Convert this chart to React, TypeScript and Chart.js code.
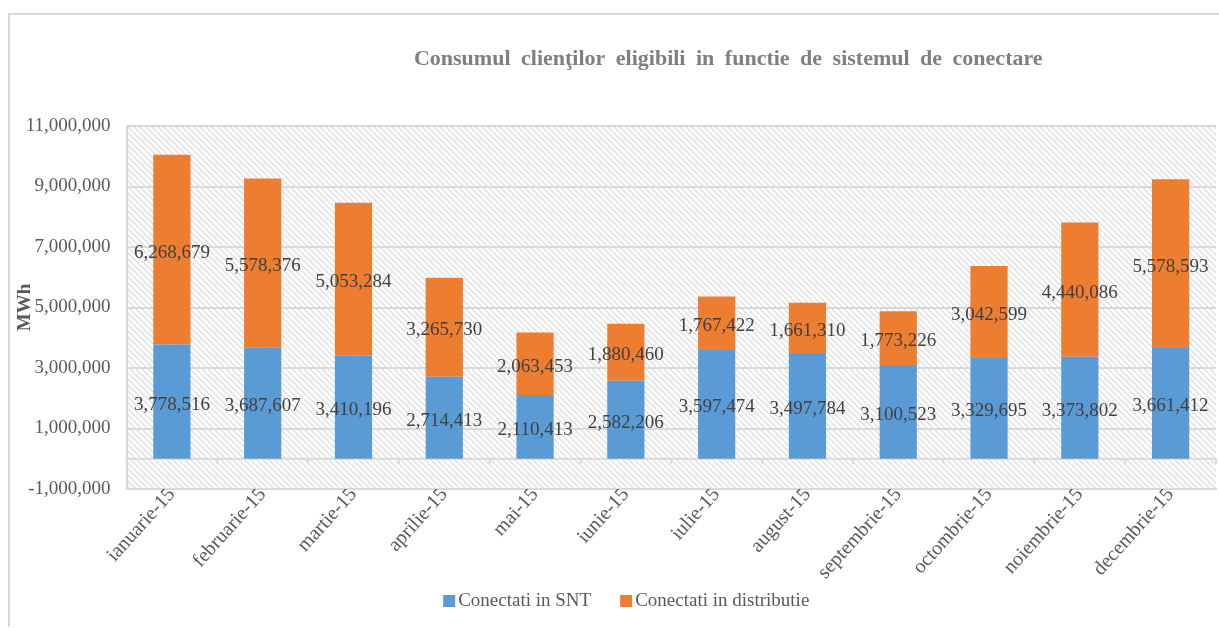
import React, { useEffect, useRef } from 'react';
import { Chart, registerables } from 'chart.js';

Chart.register(...registerables);

const categories = [
  'ianuarie-15', 'februarie-15', 'martie-15', 'aprilie-15', 'mai-15', 'iunie-15',
  'iulie-15', 'august-15', 'septembrie-15', 'octombrie-15', 'noiembrie-15', 'decembrie-15',
];
const conectatiSNT = [
  3778516, 3687607, 3410196, 2714413, 2110413, 2582206,
  3597474, 3497784, 3100523, 3329695, 3373802, 3661412,
];
const conectatiDistributie = [
  6268679, 5578376, 5053284, 3265730, 2063453, 1880460,
  1767422, 1661310, 1773226, 3042599, 4440086, 5578593,
];
const seriesNames = ['Conectati in SNT', 'Conectati in distributie'];
const seriesColors = ['#5B9BD5', '#ED7D31'];
const chartTitle = 'Consumul clienţilor eligibili in functie de sistemul de conectare';
const yAxisTitle = 'MWh';
const yMin = -1000000;
const yMax = 11000000;
const yStep = 2000000;

const SERIF = '"Liberation Serif", "Times New Roman", serif';
const fmt = (v: number) => Number(v).toLocaleString('en-US');

function makeHatch(): CanvasPattern | string {
  const s = 6;
  const c = document.createElement('canvas');
  c.width = s;
  c.height = s;
  const g = c.getContext('2d');
  if (!g) return '#fff';
  g.fillStyle = '#ffffff';
  g.fillRect(0, 0, s, s);
  g.strokeStyle = '#d9d9d9';
  g.lineWidth = 1.2;
  g.beginPath();
  g.moveTo(-1, -1); g.lineTo(s + 1, s + 1);
  g.moveTo(-1, s - 1); g.lineTo(1, s + 1);
  g.moveTo(s - 1, -1); g.lineTo(s + 1, 1);
  g.stroke();
  return g.createPattern(c, 'repeat') || '#fff';
}

export default function App() {
  const ref = useRef<HTMLCanvasElement | null>(null);

  useEffect(() => {
    if (!ref.current) return;
    const hatch = makeHatch();

    const decor = {
      id: 'decor',
      beforeDraw(chart: any) {
        const { ctx, chartArea: a } = chart;
        ctx.save();
        ctx.fillStyle = hatch;
        ctx.fillRect(a.left, a.top, a.right - a.left, a.bottom - a.top);
        ctx.restore();
      },
      beforeDatasetsDraw(chart: any) {
        const { ctx, chartArea: a } = chart;
        const y0 = chart.scales.y.getPixelForValue(0);
        const xs = chart.scales.x;
        ctx.save();
        ctx.strokeStyle = '#d9d9d9';
        ctx.lineWidth = 2;
        ctx.beginPath();
        ctx.moveTo(a.left, y0);
        ctx.lineTo(a.right, y0);
        for (let k = 0; k <= categories.length; k++) {
          const x = xs.getPixelForValue(k - 0.5);
          ctx.moveTo(x, y0);
          ctx.lineTo(x, y0 + 5);
        }
        ctx.stroke();
        ctx.restore();
      },
      afterDatasetsDraw(chart: any) {
        const { ctx } = chart;
        ctx.save();
        ctx.font = `19px ${SERIF}`;
        ctx.fillStyle = '#404040';
        ctx.textAlign = 'center';
        ctx.textBaseline = 'middle';
        chart.data.datasets.forEach((ds: any, i: number) => {
          const meta = chart.getDatasetMeta(i);
          meta.data.forEach((bar: any, j: number) => {
            const cy = (bar.y + bar.base) / 2 + 3;
            ctx.fillText(fmt(ds.data[j]), bar.x, cy);
          });
        });
        ctx.restore();
      },
      afterDraw(chart: any) {
        const { ctx, chartArea: a } = chart;
        const mid = (a.left + a.right) / 2;
        ctx.save();
        // title
        ctx.font = `bold 22px ${SERIF}`;
        try { (ctx as any).wordSpacing = '5px'; } catch (e) { /* ignore */ }
        ctx.fillStyle = '#7f7f7f';
        ctx.textAlign = 'center';
        ctx.textBaseline = 'middle';
        ctx.fillText(chartTitle, mid + 57, 44);
        try { (ctx as any).wordSpacing = '0px'; } catch (e) { /* ignore */ }
        // legend
        ctx.font = `19px ${SERIF}`;
        const box = 12;
        const gap = 3;
        const itemGap = 29;
        const widths = seriesNames.map((n) => box + gap + ctx.measureText(n).width);
        const total = widths.reduce((s, w) => s + w, 0) + itemGap * (widths.length - 1);
        let x = mid - 45 - total / 2;
        const ly = 586;
        ctx.textAlign = 'left';
        seriesNames.forEach((n, i) => {
          ctx.fillStyle = seriesColors[i];
          ctx.fillRect(x, ly - box / 2, box, box);
          ctx.fillStyle = '#595959';
          ctx.fillText(n, x + box + gap, ly);
          x += widths[i] + itemGap;
        });
        ctx.restore();
      },
    };

    const chart = new Chart(ref.current, {
      type: 'bar',
      data: {
        labels: categories,
        datasets: [
          {
            label: seriesNames[0],
            data: conectatiSNT,
            backgroundColor: seriesColors[0],
            barPercentage: 0.41,
            categoryPercentage: 1,
            stack: 's',
          },
          {
            label: seriesNames[1],
            data: conectatiDistributie,
            backgroundColor: seriesColors[1],
            barPercentage: 0.41,
            categoryPercentage: 1,
            stack: 's',
          },
        ],
      },
      options: {
        responsive: false,
        animation: false,
        devicePixelRatio: 1,
        layout: { padding: { top: 111, right: 3, bottom: 38, left: 0 } },
        plugins: {
          legend: { display: false },
          title: { display: false },
          tooltip: { enabled: false },
        },
        scales: {
          x: {
            stacked: true,
            grid: { display: false },
            border: { display: true, color: '#d9d9d9', width: 2 },
            ticks: {
              autoSkip: false,
              maxRotation: 48,
              minRotation: 48,
              padding: -14,
              color: '#595959',
              font: { family: SERIF, size: 20 },
            },
            afterFit: (s: any) => { s.height = 100; },
          },
          y: {
            stacked: true,
            min: yMin,
            max: yMax,
            ticks: {
              stepSize: yStep,
              padding: 16,
              color: '#595959',
              font: { family: SERIF, size: 19 },
              callback: (v: any) => fmt(v),
            },
            grid: { color: '#d9d9d9', lineWidth: 2, drawTicks: false },
            border: { color: '#d9d9d9', width: 2 },
            title: {
              display: true,
              text: yAxisTitle,
              color: '#595959',
              font: { family: SERIF, size: 19, weight: 'bold' },
              padding: { top: 4, bottom: 0 },
            },
            afterFit: (s: any) => { s.width = 116.5; },
          },
        },
      },
      plugins: [decor],
    } as any);

    return () => chart.destroy();
  }, []);

  return (
    <div
      style={{
        position: 'fixed',
        left: 8,
        top: 13,
        width: 1211,
        height: 614,
        boxSizing: 'border-box',
        borderLeft: '2px solid #d9d9d9',
        borderTop: '2px solid #d9d9d9',
        background: '#fff',
      }}
    >
      <canvas ref={ref} width={1209} height={612} style={{ display: 'block' }} />
    </div>
  );
}
